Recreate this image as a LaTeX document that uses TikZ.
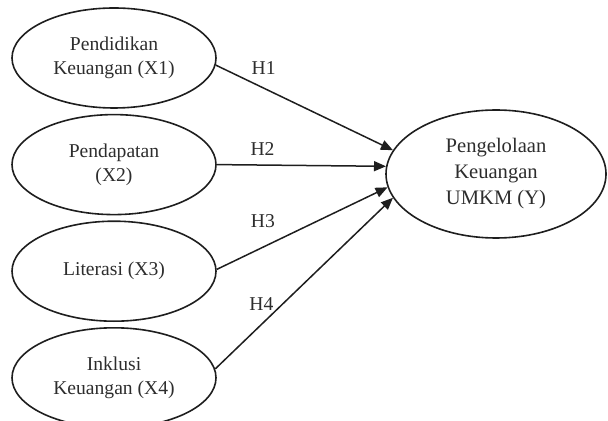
\documentclass[tikz,border=0pt]{standalone}
\usepackage{fontspec}
\setmainfont{Liberation Serif}
\usetikzlibrary{positioning,arrows.meta,shapes.geometric}
\definecolor{inkgray}{RGB}{30,30,30}
\definecolor{textgray}{RGB}{45,45,45}
\tikzset{
  var/.style  ={ellipse, draw=inkgray, thick, minimum width=102pt, minimum height=50pt,
                align=center, font=\fontsize{9.8}{12}\selectfont, text=textgray, inner sep=0pt},
  dep/.style  ={ellipse, draw=inkgray, thick, minimum width=110pt, minimum height=64pt,
                align=center, font=\fontsize{10.3}{13}\selectfont, text=textgray, inner sep=0pt},
  hyp/.style  ={-{Triangle[length=6pt,width=5pt]}, line width=0.75pt, draw=inkgray},
  hlab/.style ={font=\fontsize{9.8}{12}\selectfont, text=textgray, inner sep=0pt},
}

\begin{document}
\begin{tikzpicture}[x=0.5pt,y=-0.5pt,node distance=2.5pt]
\useasboundingbox (0,0) rectangle (608,421);
% independent variables
\node[var] at (114,58) (pend) {Pendidikan\\ Keuangan (X1)};
\node[var, below=of pend] (pdpt) {Pendapatan\\ (X2)};
\node[var, below=of pdpt] (lit)  {Literasi (X3)};
\node[var, below=of lit]  (inkl) {Inklusi\\ Keuangan (X4)};

% dependent variable
\node[dep] at (496,174) (umkm) {Pengelolaan\\ Keuangan\\ UMKM (Y)};

% hypotheses
\draw[hyp] (pend.-4) -- node[hlab, pos=0.27, above=6.5pt]{H1} (umkm.167);
\draw[hyp] (pdpt.0)  -- node[hlab, pos=0.27, above=4.5pt]{H2} (umkm.176);
\draw[hyp] (lit.1)   -- node[hlab, pos=0.27, above=9.5pt]{H3} (umkm.187);
\draw[hyp] (inkl.5)  -- node[hlab, pos=0.26, above=6.5pt]{H4} (umkm.193);
\end{tikzpicture}
\end{document}
